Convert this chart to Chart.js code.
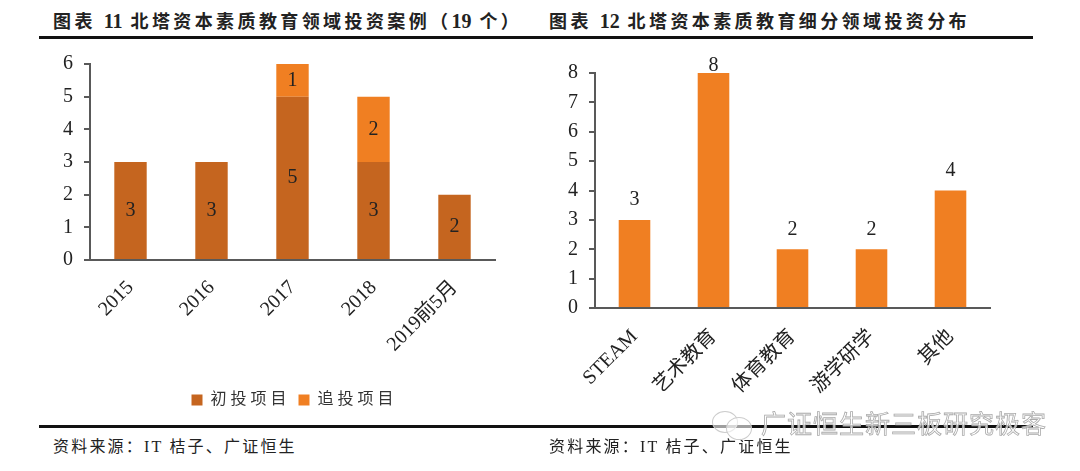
<!DOCTYPE html>
<html lang="zh">
<head>
    <meta charset="UTF-8">
    <title>北塔资本素质教育投资</title>
    <script src="https://cdn.jsdelivr.net/npm/chart.js"></script>
    <style>
        html, body { margin: 0; padding: 0; background: #fff; }
        body { position: relative; width: 1080px; height: 471px; overflow: hidden; font-family: "Liberation Serif", "Noto Sans CJK SC", serif; color: #222; }
        .title { position: absolute; top: 7px; font-size: 18px; font-weight: bold; letter-spacing: 3.4px; white-space: nowrap; }
        .title b { font-size: 20px; letter-spacing: 0; }
        .source { position: absolute; top: 433px; font-size: 16px; letter-spacing: 2.2px; white-space: nowrap; }
        .rule { position: absolute; left: 39px; width: 994px; height: 3px; background: #111; }
        canvas { position: absolute; }
        .mark { position: absolute; left: 761px; top: 404px; font-family: "Noto Sans CJK SC", sans-serif; font-size: 25px; letter-spacing: 1px; color: rgba(255,255,255,.75); -webkit-text-stroke: .8px #aaa; white-space: nowrap; }
        .bubble { position: absolute; border: 1px solid #ccc; border-radius: 50%; background: rgba(255,255,255,.6); }
    </style>
</head>
<body>
    <div class="title" style="left:53px">图表 <b>11</b> 北塔资本素质教育领域投资案例（<b>19</b> 个）</div>
    <div class="title" style="left:549px">图表 <b>12</b> 北塔资本素质教育细分领域投资分布</div>
    <div class="rule" style="top:36px"></div>
    <canvas id="chartLeft" width="470" height="377" style="left:40px;top:41px"></canvas>
    <canvas id="chartRight" width="470" height="368" style="left:540px;top:50px"></canvas>
    <div class="rule" style="top:425px"></div>
    <div class="source" style="left:53px">资料来源：IT 桔子、广证恒生</div>
    <div class="source" style="left:549px">资料来源：IT 桔子、广证恒生</div>
    <div class="bubble" style="left:712px;top:411px;width:24px;height:20px"></div>
    <div class="bubble" style="left:726px;top:417px;width:24px;height:21px"></div>
    <div class="mark">广证恒生新三板研究极客</div>

    <script>
        // 图表 11
        const yearLabels = ['2015', '2016', '2017', '2018', '2019前5月'];
        const firstRound = [3, 3, 5, 3, 2];
        const followRound = [null, null, 1, 2, null];
        const firstName = '初投项目';
        const followName = '追投项目';

        // 图表 12
        const fieldLabels = ['STEAM', '艺术教育', '体育教育', '游学研学', '其他'];
        const fieldValues = [3, 8, 2, 2, 4];

        const DARK = '#C5651F';
        const ORANGE = '#F07F22';
        const AXIS = '#595959';
        const FONT = '"Liberation Serif", "Noto Sans CJK SC", serif';

        // numeri sulle barre
        const valueLabels = {
            id: 'valueLabels',
            afterDatasetsDraw(chart, args, opts) {
                const ctx = chart.ctx;
                ctx.save();
                ctx.font = '20px ' + FONT;
                ctx.fillStyle = '#222';
                ctx.textAlign = 'center';
                ctx.textBaseline = 'middle';
                chart.data.datasets.forEach((ds, i) => {
                    chart.getDatasetMeta(i).data.forEach((bar, j) => {
                        if (ds.data[j] == null) return;
                        const y = opts.above
                            ? Math.max(bar.y - 20, chart.chartArea.top - 7)
                            : (bar.y + bar.base) / 2;
                        ctx.fillText(ds.data[j], bar.x, y);
                    });
                });
                ctx.restore();
            }
        };

        function scales(max, yWidth, xHeight, padding) {
            return {
                x: {
                    stacked: true,
                    grid: { display: false },
                    border: { color: AXIS, width: 2 },
                    ticks: { color: '#222', font: { size: 20, family: FONT }, minRotation: 45, maxRotation: 45, padding: padding, autoSkip: false },
                    afterFit(axis) { axis.height = xHeight; }
                },
                y: {
                    stacked: true,
                    min: 0,
                    max: max,
                    grid: { drawOnChartArea: false, color: AXIS, lineWidth: 2, tickLength: 6 },
                    border: { color: AXIS, width: 2 },
                    ticks: { stepSize: 1, color: '#222', font: { size: 20, family: FONT }, padding: 11 },
                    afterFit(axis) { axis.width = yWidth; }
                }
            };
        }

        new Chart(document.getElementById('chartLeft'), {
            type: 'bar',
            data: {
                labels: yearLabels,
                datasets: [
                    { label: firstName, data: firstRound, backgroundColor: DARK, barPercentage: 0.4, categoryPercentage: 1 },
                    { label: followName, data: followRound, backgroundColor: ORANGE, barPercentage: 0.4, categoryPercentage: 1 }
                ]
            },
            options: {
                responsive: false,
                animation: false,
                layout: { padding: { top: 8, right: 15, left: 0, bottom: 0 } },
                scales: scales(6, 50, 120, 8),
                plugins: {
                    tooltip: { enabled: false },
                    valueLabels: { above: false },
                    legend: {
                        position: 'bottom',
                        fullSize: false,
                        labels: {
                            color: '#333',
                            boxWidth: 11,
                            boxHeight: 11,
                            padding: 12,
                            font: { size: 16, family: FONT },
                            generateLabels(chart) {
                                return Chart.defaults.plugins.legend.labels.generateLabels(chart).map(item => {
                                    item.text = item.text.split('').join(' ');
                                    return item;
                                });
                            }
                        }
                    }
                }
            },
            plugins: [valueLabels]
        });

        new Chart(document.getElementById('chartRight'), {
            type: 'bar',
            data: {
                labels: fieldLabels,
                datasets: [
                    { data: fieldValues, backgroundColor: ORANGE, barPercentage: 0.4, categoryPercentage: 1 }
                ]
            },
            options: {
                responsive: false,
                animation: false,
                layout: { padding: { top: 23, right: 20, left: 0, bottom: 0 } },
                scales: scales(8, 55, 110, 9),
                plugins: {
                    tooltip: { enabled: false },
                    valueLabels: { above: true },
                    legend: { display: false }
                }
            },
            plugins: [valueLabels]
        });
    </script>
</body>
</html>
